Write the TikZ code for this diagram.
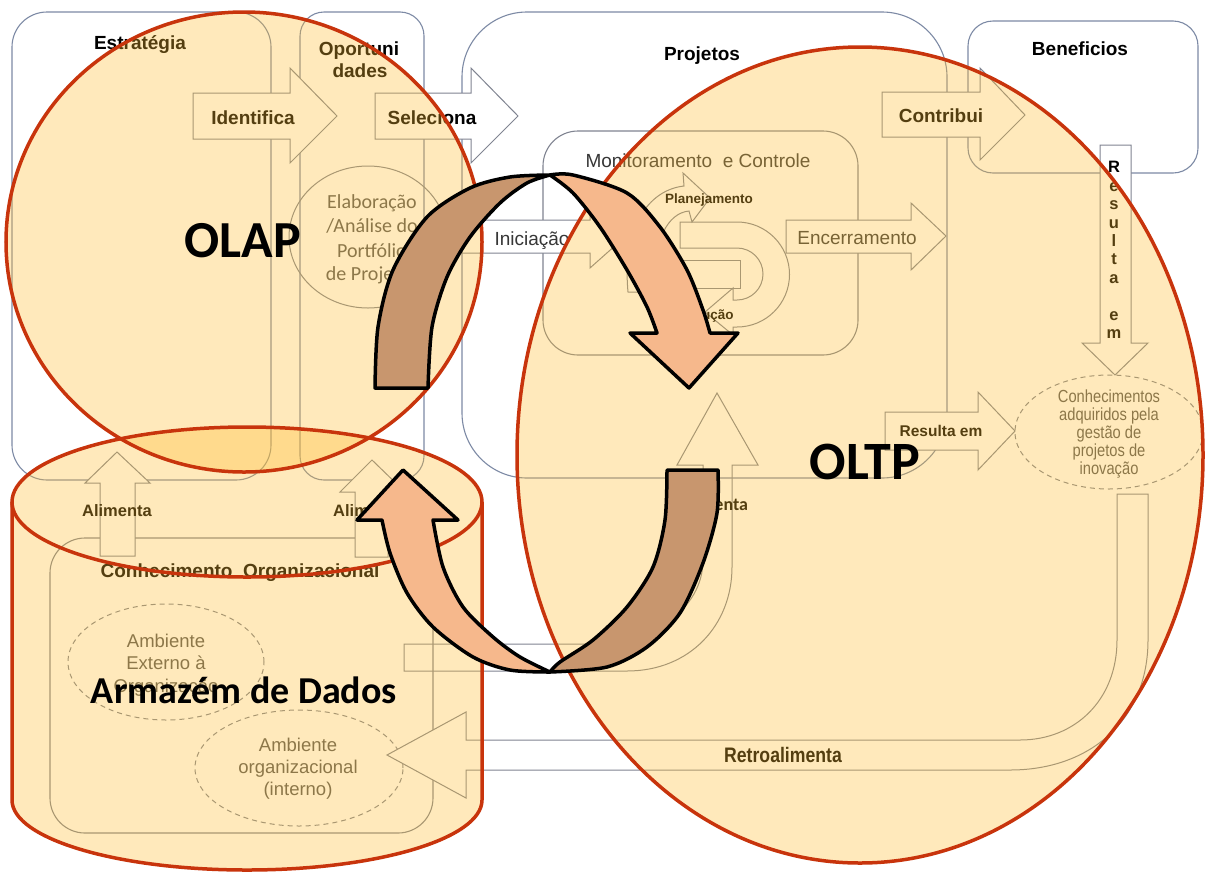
\documentclass[tikz,border=0pt]{standalone}
\usepackage{fontspec}
\setmainfont{Liberation Sans}
\newfontfamily\calfont{Carlito}
\newfontfamily\narrowfont[FakeStretch=0.84]{Liberation Sans}
\usetikzlibrary{shapes.geometric}
\definecolor{boxc}{RGB}{125,138,165}
\definecolor{arrc}{RGB}{128,132,145}
\definecolor{tintc}{RGB}{255,190,50}
\definecolor{redc}{RGB}{200,52,12}
\definecolor{brownc}{RGB}{200,150,110}
\definecolor{salmonc}{RGB}{246,184,140}
\definecolor{txtgray}{RGB}{85,85,85}
\definecolor{txtdark}{RGB}{55,55,55}
\tikzset{
  boxnode/.style={draw=boxc, line width=1.1pt, inner sep=0pt, outer sep=0pt},
  blk/.style={draw=arrc, fill=white, line width=1pt},
  thinl/.style={draw=arrc, line width=1pt},
  ellnode/.style={ellipse, draw=arrc, line width=1pt, inner sep=0pt},
  dashell/.style={ellnode, dash pattern=on 5pt off 4pt},
  lab/.style={font=\bfseries\fontsize{19}{23}\selectfont, inner sep=0pt, anchor=base},
  reg/.style={font=\fontsize{19}{23}\selectfont, inner sep=0pt, anchor=base, text=txtdark},
  smalllab/.style={font=\bfseries\fontsize{13.5}{16}\selectfont, inner sep=0pt, anchor=base},
  elabtxt/.style={font=\calfont\fontsize{20}{24}\selectfont, inner sep=0pt, anchor=base, text=txtgray},
  envtxt/.style={font=\fontsize{18.5}{22}\selectfont, inner sep=0pt, anchor=base, text=txtgray},
  cktxt/.style={font=\narrowfont\fontsize{17.5}{20}\selectfont, inner sep=0pt, anchor=base, text=txtgray},
  tintfill/.style={fill=tintc, fill opacity=0.33},
  redline/.style={draw=redc, line width=3.5pt},
  bigarrow/.style={draw=black, line width=3.5pt, line join=round},
  bigtxt/.style={font=\calfont\bfseries\fontsize{52}{60}\selectfont, inner sep=0pt, anchor=base},
}
\begin{document}
\begin{tikzpicture}[x=1pt,y=-1pt]
\useasboundingbox (0,0) rectangle (1206,873);
\fill[white] (0,0) rectangle (1206,873);

% ---------- boxes ----------
\node[boxnode, rounded corners=35pt, minimum width=259pt, minimum height=468pt] (estrbox) at (141.5,246) {};
\node[boxnode, rounded corners=24pt, minimum width=124pt, minimum height=468pt] (oppbox) at (362,246) {};
\node[boxnode, rounded corners=65pt, minimum width=485pt, minimum height=466pt] (projbox) at (704.5,245) {};
\node[boxnode, rounded corners=25pt, minimum width=230pt, minimum height=152pt] (benbox) at (1083,97) {};
\node[boxnode, draw=arrc, rounded corners=35pt, minimum width=315pt, minimum height=224pt] (monbox) at (700.5,243) {};
\node[boxnode, draw=arrc, rounded corners=35pt, minimum width=383pt, minimum height=295pt] (conhbox) at (241.5,685.5) {};

% ---------- ellipses ----------
\node[ellnode, minimum width=158pt, minimum height=142pt] (elab) at (368,237) {};
\node[dashell, minimum width=188pt, minimum height=114pt] (ckell) at (1109,432) {};
\node[dashell, minimum width=196pt, minimum height=116pt] (extell) at (166,662) {};
\node[dashell, minimum width=208pt, minimum height=116pt] (intell) at (299,768) {};

% ---------- PDCA cycle ----------
\draw[thinl] (628,292) .. controls (622,228) and (648,190) .. (684,186) -- (683,173) -- (710,198) -- (692,222) -- (689,211) .. controls (668,213) and (652,240) .. (655,292) -- cycle;
\draw[thinl] (680,222) -- (737,222) arc[start angle=-90, end angle=90, radius=52.5] -- (733,327) -- (733,335) -- (705,312) -- (733,288) -- (733,300) -- (737,300) arc[start angle=90, end angle=-90, radius=26] -- (680,248) -- cycle;
\draw[thinl] (680,260) rectangle (740,288);

% ---------- block arrows ----------
\draw[blk] (193,93) -- (290,93) -- (290,68) -- (337,116) -- (290,163) -- (290,139) -- (193,139) -- cycle;
\draw[blk] (375,93) -- (471,93) -- (471,68) -- (518,116) -- (471,163) -- (471,139) -- (375,139) -- cycle;
\draw[blk] (882,92) -- (980,92) -- (980,68) -- (1025,115) -- (980,160) -- (980,137) -- (882,137) -- cycle;
\draw[blk] (786,220) -- (911,220) -- (911,203) -- (946,236) -- (911,270) -- (911,253) -- (786,253) -- cycle;
\draw[blk] (462,220) -- (590,220) -- (590,204) -- (626,236) -- (590,268) -- (590,253) -- (462,253) -- cycle;
\draw[blk] (1100,145) -- (1131,145) -- (1131,343) -- (1148,343) -- (1115,375) -- (1082,343) -- (1100,343) -- cycle;
\draw[blk] (885,412) -- (978,412) -- (978,392) -- (1015,431) -- (978,470) -- (978,450) -- (885,450) -- cycle;
\draw[blk] (100,556) -- (100,483) -- (85,483) -- (117,452) -- (150,483) -- (135,483) -- (135,556) -- cycle;
\draw[blk] (355,557) -- (355,492) -- (340,492) -- (372,460) -- (405,492) -- (388,492) -- (388,557) -- cycle;
\draw[blk] (387,755) -- (466,712) -- (466,740) -- (1020,740) .. controls (1075,740) and (1117,700) .. (1117,640) -- (1117,494) -- (1148,494) -- (1148,640) .. controls (1148,720) and (1090,770) .. (1010,770) -- (466,770) -- (466,798) -- cycle;
\draw[thinl] (404,644) -- (593,644) .. controls (650,644) and (703,610) .. (703,560) -- (703,465) -- (677,465) -- (717,393) -- (758,465) -- (732,465) -- (732,567) .. controls (732,625) and (690,671) .. (627,671) -- (404,671) -- cycle;

% ---------- labels ----------
\node[lab] (estr) at (140,49) {Estratégia};
\node[lab] (opp1) at (359,55) {Oportuni};
\node[lab] (opp2) at (360,77) {dades};
\node[lab] (ident) at (253,124) {Identifica};
\node[lab] (selec) at (432,124) {Seleciona};
\node[lab] (proj) at (702,60) {Projetos};
\node[lab] (benef) at (1080,55) {Beneficios};
\node[lab] (contrib) at (941,122) {Contribui};
\node[reg] (monit) at (698,167) {Monitoramento\ \ e Controle};
\node[reg] (inic) at (532,245) {Iniciação};
\node[reg] (encer) at (857,244) {Encerramento};
\node[smalllab] (planej) at (709,203) {Planejamento};
\node[smalllab] (exec) at (702,319) {Execução};
\node[font=\bfseries\fontsize{16.5}{18.4}\selectfont, align=center, inner sep=0pt] (resv) at (1114,250) {R\\e\\s\\u\\l\\t\\a\\[18.4pt]e\\m};
\node[smalllab, font=\bfseries\fontsize{15.5}{18}\selectfont] (reslow) at (941,436) {Resulta em};
\node[cktxt] (ck1) at (1109,402) {Conhecimentos};
\node[cktxt] (ck2) at (1109,420) {adquiridos pela};
\node[cktxt] (ck3) at (1109,438) {gestão de};
\node[cktxt] (ck4) at (1109,456) {projetos de};
\node[cktxt] (ck5) at (1109,474) {inovação};
\node[elabtxt] (el1) at (372,208) {Elaboração};
\node[elabtxt] (el2) at (372,232) {/Análise do};
\node[elabtxt] (el3) at (372,257) {Portfólio};
\node[elabtxt] (el4) at (372,280) {de Projetos};
\node[font=\narrowfont\bfseries\fontsize{21}{24}\selectfont, inner sep=0pt, anchor=base] (retro) at (783,762) {Retroalimenta};
\node[lab, font=\bfseries\fontsize{16.5}{20}\selectfont] (aliml) at (117,516) {Alimenta};
\node[lab, font=\bfseries\fontsize{16.5}{20}\selectfont] (alimr) at (368,516) {Alimenta};
\node[lab, font=\calfont\bfseries\fontsize{18}{20}\selectfont] (alimc) at (714,510) {Alimenta};
\node[lab] (conhorg) at (240,577) {Conhecimento\ \ Organizacional};
\node[envtxt] (ex1) at (166,647) {Ambiente};
\node[envtxt] (ex2) at (166,669) {Externo à};
\node[envtxt] (ex3) at (166,692) {Organização};
\node[envtxt] (in1) at (298,751) {Ambiente};
\node[envtxt] (in2) at (298,773) {organizacional};
\node[envtxt] (in3) at (298,795) {(interno)};

% ---------- translucent overlays ----------
\fill[tintfill] (244,242) ellipse [x radius=238, y radius=230];
\fill[tintfill] (860,455) ellipse [x radius=343, y radius=408];
\fill[tintfill] (12,502) -- (12,800) arc[start angle=180, end angle=0, x radius=235, y radius=70] -- (482,502) arc[start angle=0, end angle=-180, x radius=235, y radius=75] -- cycle;
\draw[redline] (244,242) ellipse [x radius=238, y radius=230];
\draw[redline] (860,455) ellipse [x radius=343, y radius=408];
\draw[redline] (12,502) -- (12,800) arc[start angle=180, end angle=0, x radius=235, y radius=70] -- (482,502);
\draw[redline] (247,502) ellipse [x radius=235, y radius=75];

% ---------- cycle arrows ----------
\filldraw[bigarrow, fill=brownc] plot[smooth] coordinates {(375,388) (378,327) (393,270) (427,217) (470,188) (510,177) (550,175)} -- plot[smooth] coordinates {(550,175) (527,183) (500,203) (470,237) (447,277) (432,327) (428,388)} -- cycle;
\filldraw[bigarrow, fill=salmonc] plot[smooth] coordinates {(550,175) (573,175) (627,193) (660,227) (687,270) (703,310) (710,333)} -- (738,333) -- (689,388) -- (630,333) -- (657,333) -- plot[smooth] coordinates {(657,333) (647,307) (627,270) (600,227) (573,193) (550,175)} -- cycle;
\filldraw[bigarrow, fill=brownc] plot[smooth] coordinates {(718,470) (717,513) (703,563) (680,613) (647,647) (607,667) (550,672)} -- plot[smooth] coordinates {(550,672) (560,662) (593,640) (627,607) (653,567) (665,520) (667,470)} -- cycle;
\filldraw[bigarrow, fill=salmonc] plot[smooth] coordinates {(382,520) (390,553) (407,593) (433,627) (473,657) (510,670) (550,672)} -- plot[smooth] coordinates {(550,672) (520,657) (493,637) (463,607) (443,567) (433,520)} -- (458,520) -- (403,470) -- (357,520) -- cycle;

% ---------- big labels ----------
\node[bigtxt] (olap) at (243,257) {OLAP};
\node[bigtxt, font=\calfont\bfseries\fontsize{54}{60}\selectfont] (oltp) at (865,479) {OLTP};
\node[bigtxt, font=\calfont\bfseries\fontsize{38}{44}\selectfont] (armaz) at (244,703) {Armazém de Dados};
\end{tikzpicture}
\end{document}
